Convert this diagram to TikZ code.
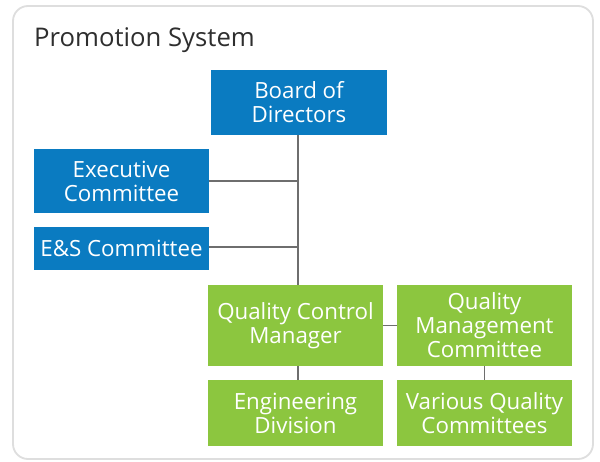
\documentclass[tikz,border=0pt]{standalone}
\usepackage{fontspec}
\setmainfont{Open Sans}
\definecolor{boxblue}{HTML}{0A7BC1}
\definecolor{boxgreen}{HTML}{8CC63F}
\definecolor{linegrey}{HTML}{6E6E6E}
\definecolor{framegrey}{HTML}{DEDEDE}
\definecolor{titlegrey}{HTML}{2E2E2E}
\begin{document}
\begin{tikzpicture}[x=1pt,y=-1pt,
  orgbox/.style={inner sep=0pt, align=center, text=white,
    font=\fontsize{22.3}{24}\selectfont},
  bluebox/.style={orgbox, fill=boxblue},
  greenbox/.style={orgbox, fill=boxgreen},
  link/.style={draw=linegrey, line width=1.5pt}]
\useasboundingbox (0,0) rectangle (600,461);
\fill[white] (0,0) rectangle (600,461);
\draw[framegrey, line width=1.8pt, rounded corners=15pt] (13,6) rectangle (593,459);
\node[anchor=base west, text=titlegrey, font=\fontsize{25.7}{30}\selectfont, inner sep=0pt] (title) at (34,46) {Promotion System};
% boxes
\node[bluebox, minimum width=176pt, minimum height=65pt] (bod) at (299,102.5) {Board of\\Directors};
\node[bluebox, minimum width=175pt, minimum height=64pt] (exec) at (121.5,181) {Executive\\Committee};
\node[bluebox, minimum width=175pt, minimum height=43pt] (es) at (121.5,248.5) {E\&S Committee};
\node[greenbox, minimum width=175pt, minimum height=81pt] (qcm) at (295.5,325.5) {Quality Control\\Manager};
\node[greenbox, minimum width=175pt, minimum height=81pt] (qmc) at (484.5,325.5) {Quality\\Management\\Committee};
\node[greenbox, minimum width=175pt, minimum height=66pt] (eng) at (295.5,413) {Engineering\\Division};
\node[greenbox, minimum width=175pt, minimum height=66pt] (vqc) at (484.5,413) {Various Quality\\Committees};
% connectors
\coordinate (spine) at (298,181);
\coordinate (spine2) at (298,247);
\draw[link] (bod.south -| spine) -- (qcm.north -| spine);
\draw[link] (exec.east |- spine) -- (spine);
\draw[link] (es.east |- spine2) -- (spine2);
\draw[link] (qcm.east) -- (qmc.west);
\draw[link] (qcm.south -| spine) -- (eng.north -| spine);
\draw[link] (qmc.south) -- (vqc.north);
\end{tikzpicture}
\end{document}
